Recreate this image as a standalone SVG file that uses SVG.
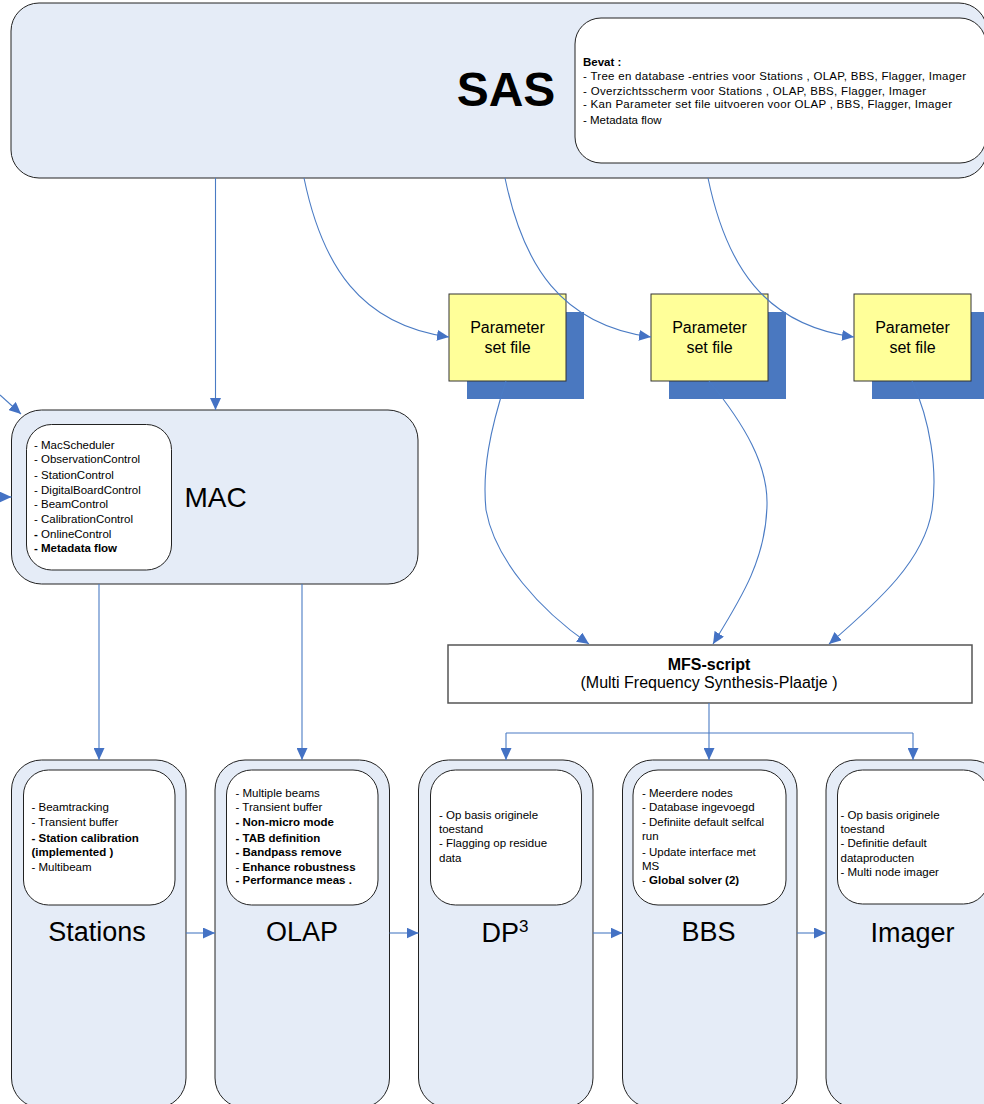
<svg xmlns="http://www.w3.org/2000/svg" width="984" height="1104" viewBox="0 0 984 1104">
<style>
text{font-family:"Liberation Sans",Arial,sans-serif;fill:#000}
.box{fill:#E5ECF7;stroke:#222;stroke-width:1}
.inner{fill:#fff;stroke:#222;stroke-width:1}
.small{font-size:11.5px}
.b{font-weight:bold}
.big{font-size:27px;text-anchor:middle}
.par{fill:#FFFF99;stroke:#333;stroke-width:1}
.sh{fill:#4A78C0}
.pt{font-size:16px;text-anchor:middle}
.c{fill:none;stroke:#4A7BC4;stroke-width:1.1}
</style>
<defs>
<marker id="ah" markerUnits="userSpaceOnUse" markerWidth="12" markerHeight="11" refX="12" refY="5.5" orient="auto">
<path d="M0,0 L12,5.5 L0,11 z" fill="#4472C4"/>
</marker>
</defs>

<g id="SAS">
<rect class="box" x="11" y="3" width="976" height="175" rx="28"/>
<text x="506" y="106" font-size="48" font-weight="bold" text-anchor="middle">SAS</text>
<rect class="inner" x="575" y="18" width="411" height="145" rx="26"/>
<text class="small b" x="583" y="65.5">Bevat :</text>
<text class="small" x="583" y="80" textLength="383" lengthAdjust="spacing">- Tree en database -entries voor Stations , OLAP, BBS, Flagger, Imager</text>
<text class="small" x="583" y="94.5" textLength="343" lengthAdjust="spacing">- Overzichtsscherm voor Stations , OLAP, BBS, Flagger, Imager</text>
<text class="small" x="583" y="107.5" textLength="369" lengthAdjust="spacing">- Kan Parameter set file uitvoeren voor OLAP   , BBS, Flagger, Imager</text>
<text class="small" x="583" y="124">- Metadata flow</text>
</g>

<g id="param1">
<rect class="sh" x="467" y="312" width="117" height="87"/>
<rect class="par" x="449" y="294" width="117" height="87"/>
<text class="pt" x="507.5" y="333">Parameter</text>
<text class="pt" x="507.5" y="353">set file</text>
</g>
<g id="param2">
<rect class="sh" x="669" y="312" width="117" height="87"/>
<rect class="par" x="651" y="294" width="117" height="87"/>
<text class="pt" x="709.5" y="333">Parameter</text>
<text class="pt" x="709.5" y="353">set file</text>
</g>
<g id="param3">
<rect class="sh" x="872" y="312" width="117" height="87"/>
<rect class="par" x="854" y="294" width="117" height="87"/>
<text class="pt" x="912.5" y="333">Parameter</text>
<text class="pt" x="912.5" y="353">set file</text>
</g>

<g id="MAC">
<rect class="box" x="11.5" y="410" width="406.5" height="174" rx="30"/>
<rect class="inner" x="26.5" y="424.5" width="145" height="145.5" rx="25"/>
<text class="small" x="34" y="449.3">- MacScheduler</text>
<text class="small" x="34" y="463.3">- ObservationControl</text>
<text class="small" x="34" y="479">- StationControl</text>
<text class="small" x="34" y="494">- DigitalBoardControl</text>
<text class="small" x="34" y="507.7">- BeamControl</text>
<text class="small" x="34" y="523.3">- CalibrationControl</text>
<text class="small" x="34" y="537.7"><tspan class="b">-</tspan> OnlineControl</text>
<text class="small b" x="34" y="552.3">- Metadata flow</text>
<text x="215.5" y="507" font-size="28" text-anchor="middle">MAC</text>
</g>

<g id="MFS">
<rect x="448" y="645" width="524" height="58" fill="#fff" stroke="#555" stroke-width="1.5"/>
<text x="709" y="670" font-size="16" font-weight="bold" text-anchor="middle">MFS-script</text>
<text x="709" y="688" font-size="16" text-anchor="middle">(Multi Frequency Synthesis-Plaatje )</text>
</g>

<g id="Stations">
<rect class="box" x="11.5" y="760" width="174.5" height="348" rx="30"/>
<rect class="inner" x="23.5" y="770" width="151.5" height="135" rx="25"/>
<text class="small" x="31.5" y="810.7">- Beamtracking</text>
<text class="small" x="31.5" y="826">- Transient buffer</text>
<text class="small b" x="31.5" y="841.7">- Station calibration</text>
<text class="small b" x="31.5" y="855.7">(implemented )</text>
<text class="small" x="31.5" y="870.7">- Multibeam</text>
<text class="big" x="97" y="941">Stations</text>
</g>

<g id="OLAP">
<rect class="box" x="215" y="760" width="174.5" height="348" rx="30"/>
<rect class="inner" x="226.5" y="770" width="151.5" height="135" rx="25"/>
<text class="small" x="235.5" y="797.3">- Multiple beams</text>
<text class="small" x="235.5" y="810.7">- Transient buffer</text>
<text class="small b" x="235.5" y="826">- Non-micro mode</text>
<text class="small b" x="235.5" y="841.7">- TAB definition</text>
<text class="small b" x="235.5" y="855.7">- Bandpass remove</text>
<text class="small" x="235.5" y="870.7">- <tspan class="b">Enhance robustness</tspan></text>
<text class="small b" x="235.5" y="884">- Performance meas .</text>
<text class="big" x="302" y="941">OLAP</text>
</g>

<g id="DP3">
<rect class="box" x="418.5" y="760" width="174.5" height="348" rx="30"/>
<rect class="inner" x="430.5" y="770" width="151" height="135" rx="25"/>
<text class="small" x="439" y="819">- Op basis originele</text>
<text class="small" x="439" y="833.3">toestand</text>
<text class="small" x="439" y="847.3">- Flagging op residue</text>
<text class="small" x="439" y="861.7">data</text>
<text x="481.5" y="941.7" font-size="27">DP<tspan font-size="17" dy="-10">3</tspan></text>
</g>

<g id="BBS">
<rect class="box" x="622.5" y="760" width="174.5" height="348" rx="30"/>
<rect class="inner" x="633" y="770" width="153" height="135" rx="25"/>
<text class="small" x="642" y="797.3">- Meerdere nodes</text>
<text class="small" x="642" y="810.7">- Database ingevoegd</text>
<text class="small" x="642" y="826">- Definiite default selfcal</text>
<text class="small" x="642" y="840">run</text>
<text class="small" x="642" y="855.7">- Update interface met</text>
<text class="small" x="642" y="870">MS</text>
<text class="small" x="642" y="884">- <tspan class="b">Global solver  (2)</tspan></text>
<text class="big" x="708.5" y="941">BBS</text>
</g>

<g id="Imager">
<rect class="box" x="826" y="760" width="175" height="348" rx="30"/>
<rect class="inner" x="837.5" y="770" width="151" height="134" rx="25"/>
<text class="small" x="840.5" y="819">- Op basis originele</text>
<text class="small" x="840.5" y="833.3">toestand</text>
<text class="small" x="840.5" y="847.3">- Definitie default</text>
<text class="small" x="840.5" y="861.7">dataproducten</text>
<text class="small" x="840.5" y="875.7">- Multi node imager</text>
<text class="big" x="912.5" y="942">Imager</text>
</g>

<g id="connectors">
<path class="c" d="M215.5,178 L215.5,410" marker-end="url(#ah)"/>
<path class="c" d="M0,395 L21,414" marker-end="url(#ah)"/>
<path class="c" d="M0,497 L11.5,497" marker-end="url(#ah)"/>
<path class="c" d="M304,178 C322,265 360,325 449,337" marker-end="url(#ah)"/>
<path class="c" d="M505,178 C523,265 561,325 651,337" marker-end="url(#ah)"/>
<path class="c" d="M708,178 C726,265 764,325 854,337" marker-end="url(#ah)"/>
<path class="c" d="M506,381 C490,430 482,470 486,510 C495,560 540,610 589,644" marker-end="url(#ah)"/>
<path class="c" d="M709,381 C745,425 768,465 767,505 C766,560 740,600 713,644" marker-end="url(#ah)"/>
<path class="c" d="M912,381 C930,420 938,470 932,510 C924,560 880,600 829,644" marker-end="url(#ah)"/>
<path class="c" d="M99,584 L99,760" marker-end="url(#ah)"/>
<path class="c" d="M302,584 L302,760" marker-end="url(#ah)"/>
<path class="c" d="M709,703 L709,760" marker-end="url(#ah)"/>
<path class="c" d="M506,733 L913,733"/>
<path class="c" d="M506,733 L506,760" marker-end="url(#ah)"/>
<path class="c" d="M913,733 L913,760" marker-end="url(#ah)"/>
<path class="c" d="M186,933 L215,933" marker-end="url(#ah)"/>
<path class="c" d="M389.5,933 L418.5,933" marker-end="url(#ah)"/>
<path class="c" d="M593,933 L622.5,933" marker-end="url(#ah)"/>
<path class="c" d="M797,933 L826,933" marker-end="url(#ah)"/>
</g>
</svg>
